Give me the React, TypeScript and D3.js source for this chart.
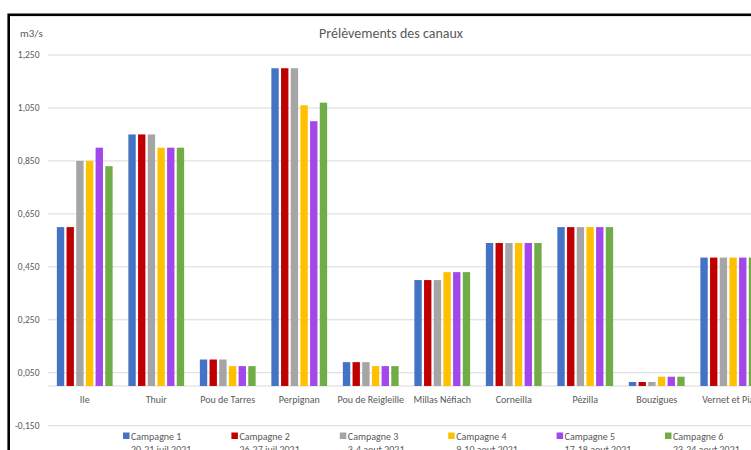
import React from "react";
import * as d3 from "d3";

const categories = [
  "Ile",
  "Thuir",
  "Pou de Tarres",
  "Perpignan",
  "Pou de Reigleille",
  "Millas Néfiach",
  "Corneilla",
  "Pézilla",
  "Bouzigues",
  "Vernet et Pia",
];

const seriesNames = ["Campagne 1", "Campagne 2", "Campagne 3", "Campagne 4", "Campagne 5", "Campagne 6"];
const seriesDates = ["20-21 juil 2021", "26-27 juil 2021", "3-4 aout 2021", "9-10 aout 2021", "17-18 aout 2021", "23-24 aout 2021"];
const seriesColors = ["#4472C4", "#C00000", "#A5A5A5", "#FFC000", "#A447EA", "#70AD47"];

const campagne1 = [0.6, 0.95, 0.1, 1.2, 0.09, 0.4, 0.54, 0.6, 0.015, 0.485];
const campagne2 = [0.6, 0.95, 0.1, 1.2, 0.09, 0.4, 0.54, 0.6, 0.015, 0.485];
const campagne3 = [0.85, 0.95, 0.1, 1.2, 0.09, 0.4, 0.54, 0.6, 0.015, 0.485];
const campagne4 = [0.85, 0.9, 0.075, 1.06, 0.075, 0.43, 0.54, 0.6, 0.035, 0.485];
const campagne5 = [0.9, 0.9, 0.075, 1.0, 0.075, 0.43, 0.54, 0.6, 0.035, 0.485];
const campagne6 = [0.83, 0.9, 0.075, 1.07, 0.075, 0.43, 0.54, 0.6, 0.035, 0.485];

const yTicks = [-0.15, 0.05, 0.25, 0.45, 0.65, 0.85, 1.05, 1.25];

const allSeries = [campagne1, campagne2, campagne3, campagne4, campagne5, campagne6];

const W = 751;
const H = 450;
const FONT = "Carlito, Calibri, 'Liberation Sans Narrow', 'Open Sans', sans-serif";
const TEXT = "#595959";

export default function App() {
  const x0 = d3.scaleBand<string>().domain(categories).range([49, 764]).paddingInner(0.22).paddingOuter(0.11);
  const x1 = d3.scaleBand<string>().domain(seriesNames).range([0, x0.bandwidth()]).paddingInner(0.24);
  const y = d3.scaleLinear().domain([-0.15, 1.25]).range([425.7, 55]);
  const fmt = (v: number) => d3.format(".3f")(v).replace(".", ",").replace("−", "-");
  const legendStart = 123;
  const legendStep = 108.4;

  return (
    <svg
      width={W}
      height={H}
      style={{ position: "absolute", left: 0, top: 0, background: "#fff" }}
      fontFamily={FONT}
    >
      <rect x={0} y={0} width={W} height={H} fill="#fff" />
      {/* frame */}
      <rect x={8.7} y={14.8} width={W + 20} height={H + 20} fill="none" stroke="#000" strokeWidth={2.6} />

      {/* gridlines and y labels */}
      {yTicks.map((t) => (
        <g key={t}>
          <line x1={48} x2={W} y1={y(t)} y2={y(t)} stroke="#D9D9D9" strokeWidth={1} />
          <text x={39.5} y={y(t) + 3.3} textAnchor="end" fontSize={9.5} fill={TEXT}>
            {fmt(t)}
          </text>
        </g>
      ))}
      {/* category axis line */}
      <line x1={48} x2={W} y1={y(0)} y2={y(0)} stroke="#D9D9D9" strokeWidth={1} />

      {/* bars */}
      {allSeries.map((vals, si) =>
        vals.map((v, ci) => {
          const bx = (x0(categories[ci]) ?? 0) + (x1(seriesNames[si]) ?? 0);
          return (
            <rect
              key={`${si}-${ci}`}
              x={bx}
              y={Math.min(y(v), y(0))}
              width={x1.bandwidth()}
              height={Math.abs(y(0) - y(v))}
              fill={seriesColors[si]}
            />
          );
        })
      )}

      {/* category labels */}
      {categories.map((c) => (
        <text
          key={c}
          x={(x0(c) ?? 0) + x0.bandwidth() / 2}
          y={402.5}
          textAnchor="middle"
          fontSize={10}
          fill={TEXT}
        >
          {c}
        </text>
      ))}

      {/* titles */}
      <text x={391} y={37.5} textAnchor="middle" fontSize={14} fill={TEXT}>
        Prélèvements des canaux
      </text>
      <text x={20} y={37} fontSize={11} fill={TEXT}>
        m3/s
      </text>

      {/* legend */}
      {seriesNames.map((name, i) => {
        const lx = legendStart + i * legendStep;
        return (
          <g key={name}>
            <rect x={lx} y={432.5} width={6.5} height={6.5} fill={seriesColors[i]} />
            <text x={lx + 8} y={440} fontSize={10} fill={TEXT}>
              {name}
            </text>
            <text x={lx + 8} y={452.5} fontSize={10} fill={TEXT}>
              {seriesDates[i]}
            </text>
          </g>
        );
      })}
    </svg>
  );
}
